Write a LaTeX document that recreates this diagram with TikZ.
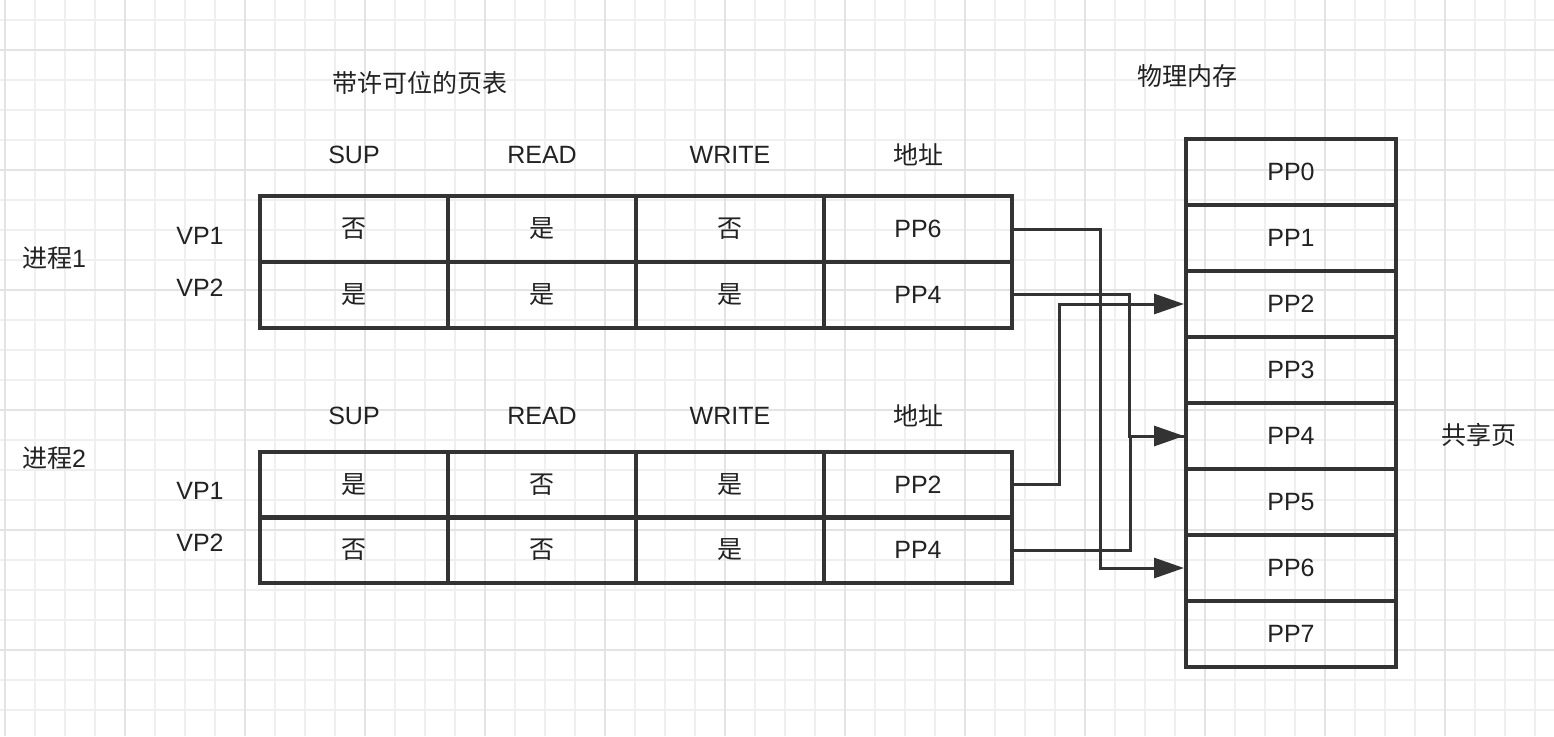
\documentclass[tikz,border=0pt]{standalone}
\usepackage{fontspec}
\setmainfont{Liberation Sans}
\newfontfamily\cjk{Noto Sans CJK SC}
\usetikzlibrary{arrows.meta}
\definecolor{ink}{HTML}{333333}
\definecolor{txt}{HTML}{222222}
\definecolor{gminor}{HTML}{EFEFEF}
\definecolor{gmajor}{HTML}{E3E3E3}
\tikzset{
  cell/.style={draw=ink, line width=4pt, minimum width=188pt, minimum height=66pt, inner sep=0pt, text=txt, font=\fontsize{25}{29}\selectfont},
  mcell/.style={cell, minimum width=210pt},
  lbl/.style={inner sep=0pt, text=txt, font=\fontsize{25}{29}\selectfont},
  conn/.style={draw=ink, line width=3pt, -{Triangle[length=30pt,width=20pt]}},
  plain/.style={draw=ink, line width=3pt}
}
\begin{document}
\begin{tikzpicture}[x=1pt,y=-1pt]
\useasboundingbox (0,0) rectangle (1554,736);
\fill[white] (0,0) rectangle (1554,736);
% grid
\foreach \x in {5,35,...,1554} \draw[gminor, line width=2pt] (\x,0) -- (\x,736);
\foreach \y in {20,50,...,736} \draw[gminor, line width=2pt] (0,\y) -- (1554,\y);
\foreach \x in {5,125,...,1554} \draw[gmajor, line width=2.5pt] (\x,0) -- (\x,736);
\foreach \y in {50,170,...,736} \draw[gmajor, line width=2.5pt] (0,\y) -- (1554,\y);
% titles
\node[lbl] (title1) at (420,83) {\cjk 带许可位的页表};
\node[lbl] (title2) at (1187,76) {\cjk 物理内存};
\node[lbl] (shared) at (1479,435) {\cjk 共享页};
% process labels
\node[lbl] (p1) at (54,258) {{\cjk 进程}1};
\node[lbl] (p2) at (54,458) {{\cjk 进程}2};
\node[lbl] (v11) at (200,236) {VP1};
\node[lbl] (v12) at (200,288) {VP2};
\node[lbl] (v21) at (200,491) {VP1};
\node[lbl] (v22) at (200,543) {VP2};
% headers
\node[lbl] (h11) at (354,155) {SUP};
\node[lbl] (h12) at (542,155) {READ};
\node[lbl] (h13) at (730,155) {WRITE};
\node[lbl] (h14) at (918,155) {\cjk 地址};
\node[lbl] (h21) at (354,416) {SUP};
\node[lbl] (h22) at (542,416) {READ};
\node[lbl] (h23) at (730,416) {WRITE};
\node[lbl] (h24) at (918,416) {\cjk 地址};
% table 1
\node[cell] (a1) at (354,229) {\cjk 否};
\node[cell] (a2) at (542,229) {\cjk 是};
\node[cell] (a3) at (730,229) {\cjk 否};
\node[cell] (a4) at (918,229) {PP6};
\node[cell] (b1) at (354,294.5) {\cjk 是};
\node[cell] (b2) at (542,294.5) {\cjk 是};
\node[cell] (b3) at (730,294.5) {\cjk 是};
\node[cell] (b4) at (918,294.5) {PP4};
% table 2
\node[cell] (c1) at (354,484.5) {\cjk 是};
\node[cell] (c2) at (542,484.5) {\cjk 否};
\node[cell] (c3) at (730,484.5) {\cjk 是};
\node[cell] (c4) at (918,484.5) {PP2};
\node[cell] (d1) at (354,550) {\cjk 否};
\node[cell] (d2) at (542,550) {\cjk 否};
\node[cell] (d3) at (730,550) {\cjk 是};
\node[cell] (d4) at (918,550) {PP4};
% memory
\node[mcell] (m0) at (1291,172) {PP0};
\node[mcell] (m1) at (1291,238) {PP1};
\node[mcell] (m2) at (1291,304) {PP2};
\node[mcell] (m3) at (1291,370) {PP3};
\node[mcell] (m4) at (1291,436) {PP4};
\node[mcell] (m5) at (1291,502) {PP5};
\node[mcell] (m6) at (1291,568) {PP6};
\node[mcell] (m7) at (1291,634) {PP7};
% connectors
\draw[conn] (a4.east) -- ++(86,0) |- (m6.west);
\draw[conn] (b4.east) -- ++(115,0) |- (m4.west);
\draw[conn] (c4.east) -- ++(45,0) |- (m2.west);
\draw[plain] (d4.east) -- ++(116,0) |- (m4.west);
\end{tikzpicture}
\end{document}
